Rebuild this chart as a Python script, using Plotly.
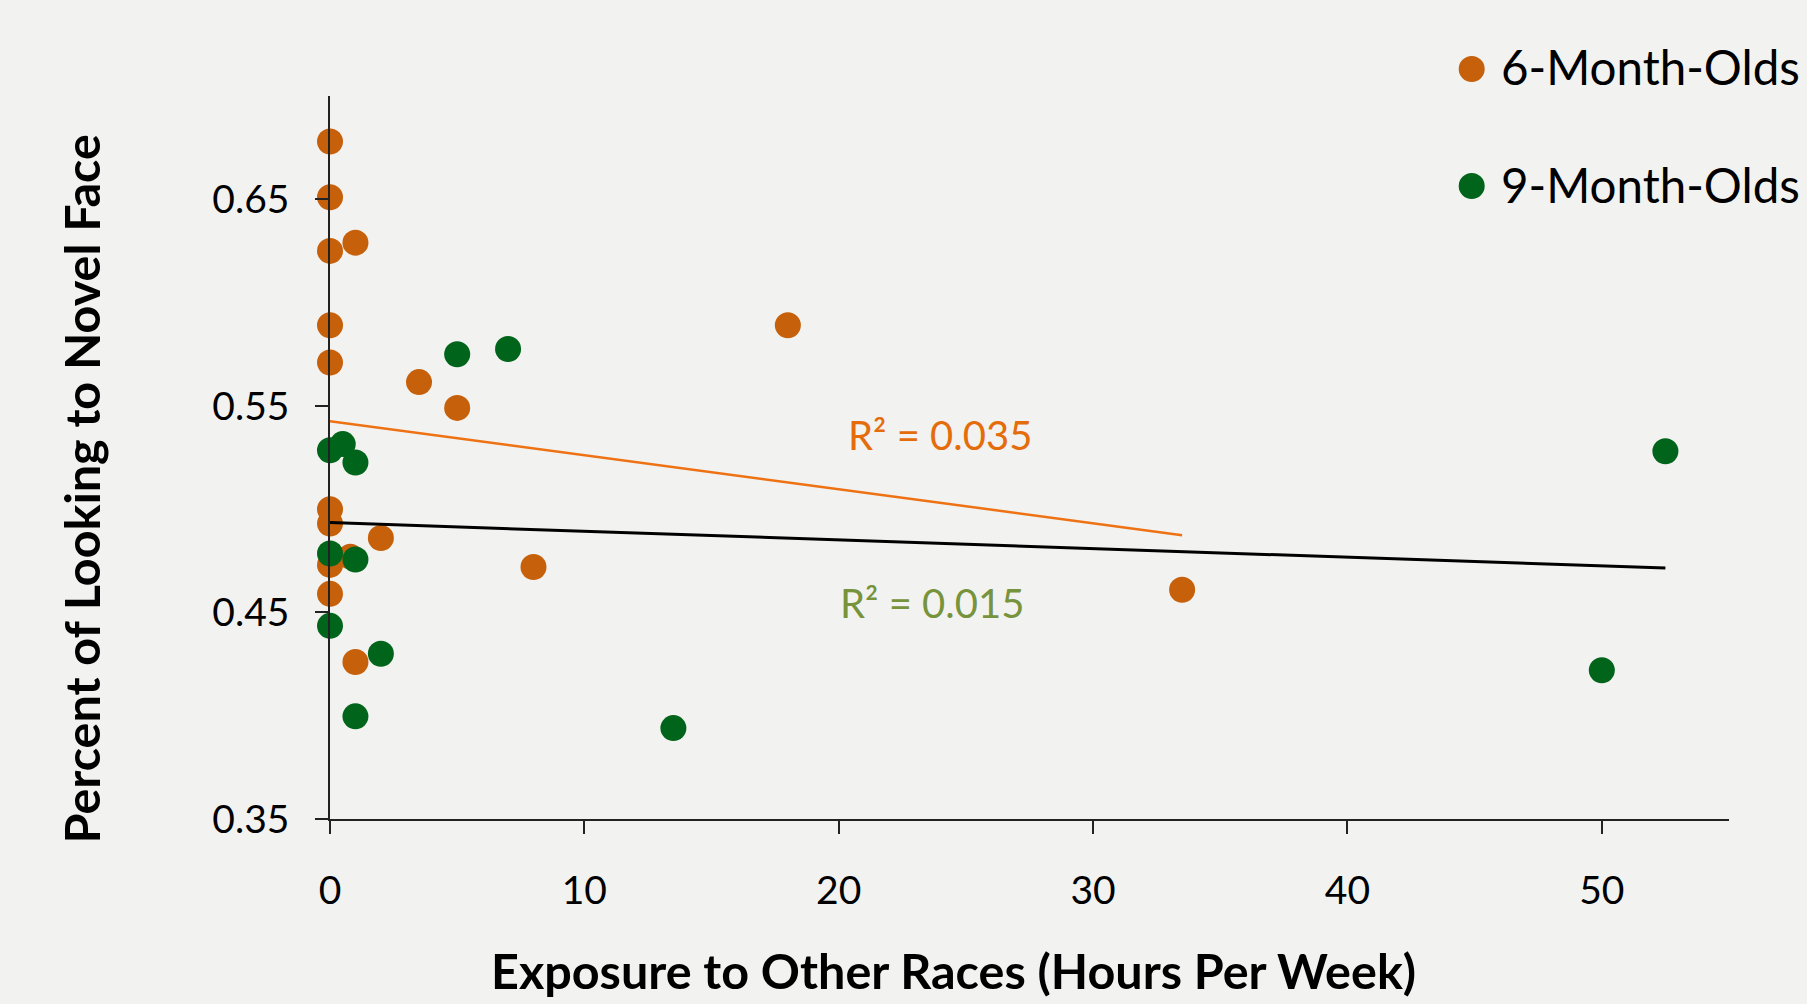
import plotly.graph_objects as go

# ---- data ----
series_names = ["6-Month-Olds", "9-Month-Olds"]

x_6mo = [0, 0, 0, 1.0, 0, 0, 3.5, 5.0, 0, 0, 2.0, 0.8, 0, 0, 8.0, 1.0, 18.0, 33.5]
y_6mo = [0.678, 0.651, 0.625, 0.629, 0.589, 0.571, 0.5615, 0.549, 0.500, 0.493,
         0.486, 0.477, 0.473, 0.459, 0.472, 0.426, 0.589, 0.461]

x_9mo = [5.0, 7.0, 0, 0.5, 1.0, 0, 1.0, 0, 2.0, 1.0, 13.5, 50.0, 52.5]
y_9mo = [0.575, 0.5775, 0.5285, 0.5315, 0.5226, 0.4785, 0.4756, 0.4435, 0.430,
         0.3997, 0.394, 0.422, 0.528]

trend_6mo_x = [0, 33.5]
trend_6mo_y = [0.5426, 0.4874]
trend_9mo_x = [0, 52.5]
trend_9mo_y = [0.4935, 0.4715]

r2_labels = ["R² = 0.035", "R² = 0.015"]

x_ticks = [0, 10, 20, 30, 40, 50]
y_ticks = [0.35, 0.45, 0.55, 0.65]
y_tick_text = ["0.35", "0.45", "0.55", "0.65"]

x_title = "Exposure to Other Races (Hours Per Week)"
y_title = "Percent of Looking to Novel Face"

# ---- styles ----
BG = "#F2F2F0"
C6 = "#C6600B"
C9 = "#00641A"
C6_LINE = "#EE7214"
C6_TEXT = "#E46C0A"
C9_TEXT = "#77933C"
FONT = "Lato"

W, H = 1807, 1004
ML, MR, MT, MB = 330, 78, 96, 185
PW, PH = W - ML - MR, H - MT - MB


def px_x(px):
    return (px - ML) / PW


def px_y(py):
    return (H - MB - py) / PH


fig = go.Figure()
fig.add_trace(go.Scatter(x=x_6mo, y=y_6mo, mode="markers", name=series_names[0],
                         marker=dict(size=26, color=C6, line=dict(width=0)),
                         cliponaxis=False, showlegend=False))
fig.add_trace(go.Scatter(x=x_9mo, y=y_9mo, mode="markers", name=series_names[1],
                         marker=dict(size=26, color=C9, line=dict(width=0)),
                         cliponaxis=False, showlegend=False))
fig.add_trace(go.Scatter(x=trend_6mo_x, y=trend_6mo_y, mode="lines",
                         line=dict(color=C6_LINE, width=2.5), showlegend=False,
                         hoverinfo="skip"))
fig.add_trace(go.Scatter(x=trend_9mo_x, y=trend_9mo_y, mode="lines",
                         line=dict(color="#000000", width=3), showlegend=False,
                         hoverinfo="skip"))

# R² labels
fig.add_annotation(x=20.3, y=0.5358, xref="x", yref="y", text=r2_labels[0],
                   showarrow=False, xanchor="left", yanchor="middle",
                   font=dict(family=FONT, size=40, color=C6_TEXT))
fig.add_annotation(x=19.97, y=0.4545, xref="x", yref="y", text=r2_labels[1],
                   showarrow=False, xanchor="left", yanchor="middle",
                   font=dict(family=FONT, size=40, color=C9_TEXT))

# custom legend (large markers)
legend_items = [(series_names[0], C6, 69), (series_names[1], C9, 186)]
for name, col, ypx in legend_items:
    fig.add_shape(type="circle", xref="paper", yref="paper",
                  xsizemode="pixel", ysizemode="pixel",
                  xanchor=px_x(1471.7), yanchor=px_y(ypx),
                  x0=-13, x1=13, y0=-13, y1=13,
                  fillcolor=col, line=dict(width=0))
    fig.add_annotation(x=px_x(1499), y=px_y(ypx - 2),
                       xref="paper", yref="paper", text=name, showarrow=False,
                       xanchor="left", yanchor="middle",
                       font=dict(family=FONT, size=47.5, color="#000000"))

# axis titles
fig.add_annotation(x=px_x(953), y=px_y(970), xref="paper", yref="paper",
                   text="<b>" + x_title + "</b>", showarrow=False,
                   xanchor="center", yanchor="middle",
                   font=dict(family=FONT, size=48.5, color="#000000"))
fig.add_annotation(x=px_x(80), y=px_y(489.5), xref="paper", yref="paper",
                   text="<b>" + y_title + "</b>", showarrow=False, textangle=-90,
                   xanchor="center", yanchor="middle",
                   font=dict(family=FONT, size=48.5, color="#000000"))

fig.update_layout(
    width=W, height=H,
    paper_bgcolor=BG, plot_bgcolor=BG,
    margin=dict(l=ML, r=MR, t=MT, b=MB, autoexpand=False),
    font=dict(family=FONT, color="#000000"),
    showlegend=False,
    xaxis=dict(range=[0, 55], tickvals=x_ticks, ticks="outside", ticklen=13,
               tickwidth=1.5, tickcolor="#222222", showline=True, linecolor="#222222",
               linewidth=2, showgrid=False, zeroline=False,
               tickfont=dict(family=FONT, size=39, color="#000000"),
               ticklabelstandoff=23),
    yaxis=dict(range=[0.35, 0.70], tickvals=y_ticks, ticktext=y_tick_text,
               ticks="outside", ticklen=13, tickwidth=1.5, tickcolor="#222222",
               showline=True, linecolor="#222222", linewidth=1.5,
               showgrid=False, zeroline=False,
               tickfont=dict(family=FONT, size=39, color="#000000"),
               ticklabelstandoff=18),
)

fig.write_html("out.html", config={"displayModeBar": False},
               post_script="document.body.style.margin='0';document.body.style.overflow='hidden';")
